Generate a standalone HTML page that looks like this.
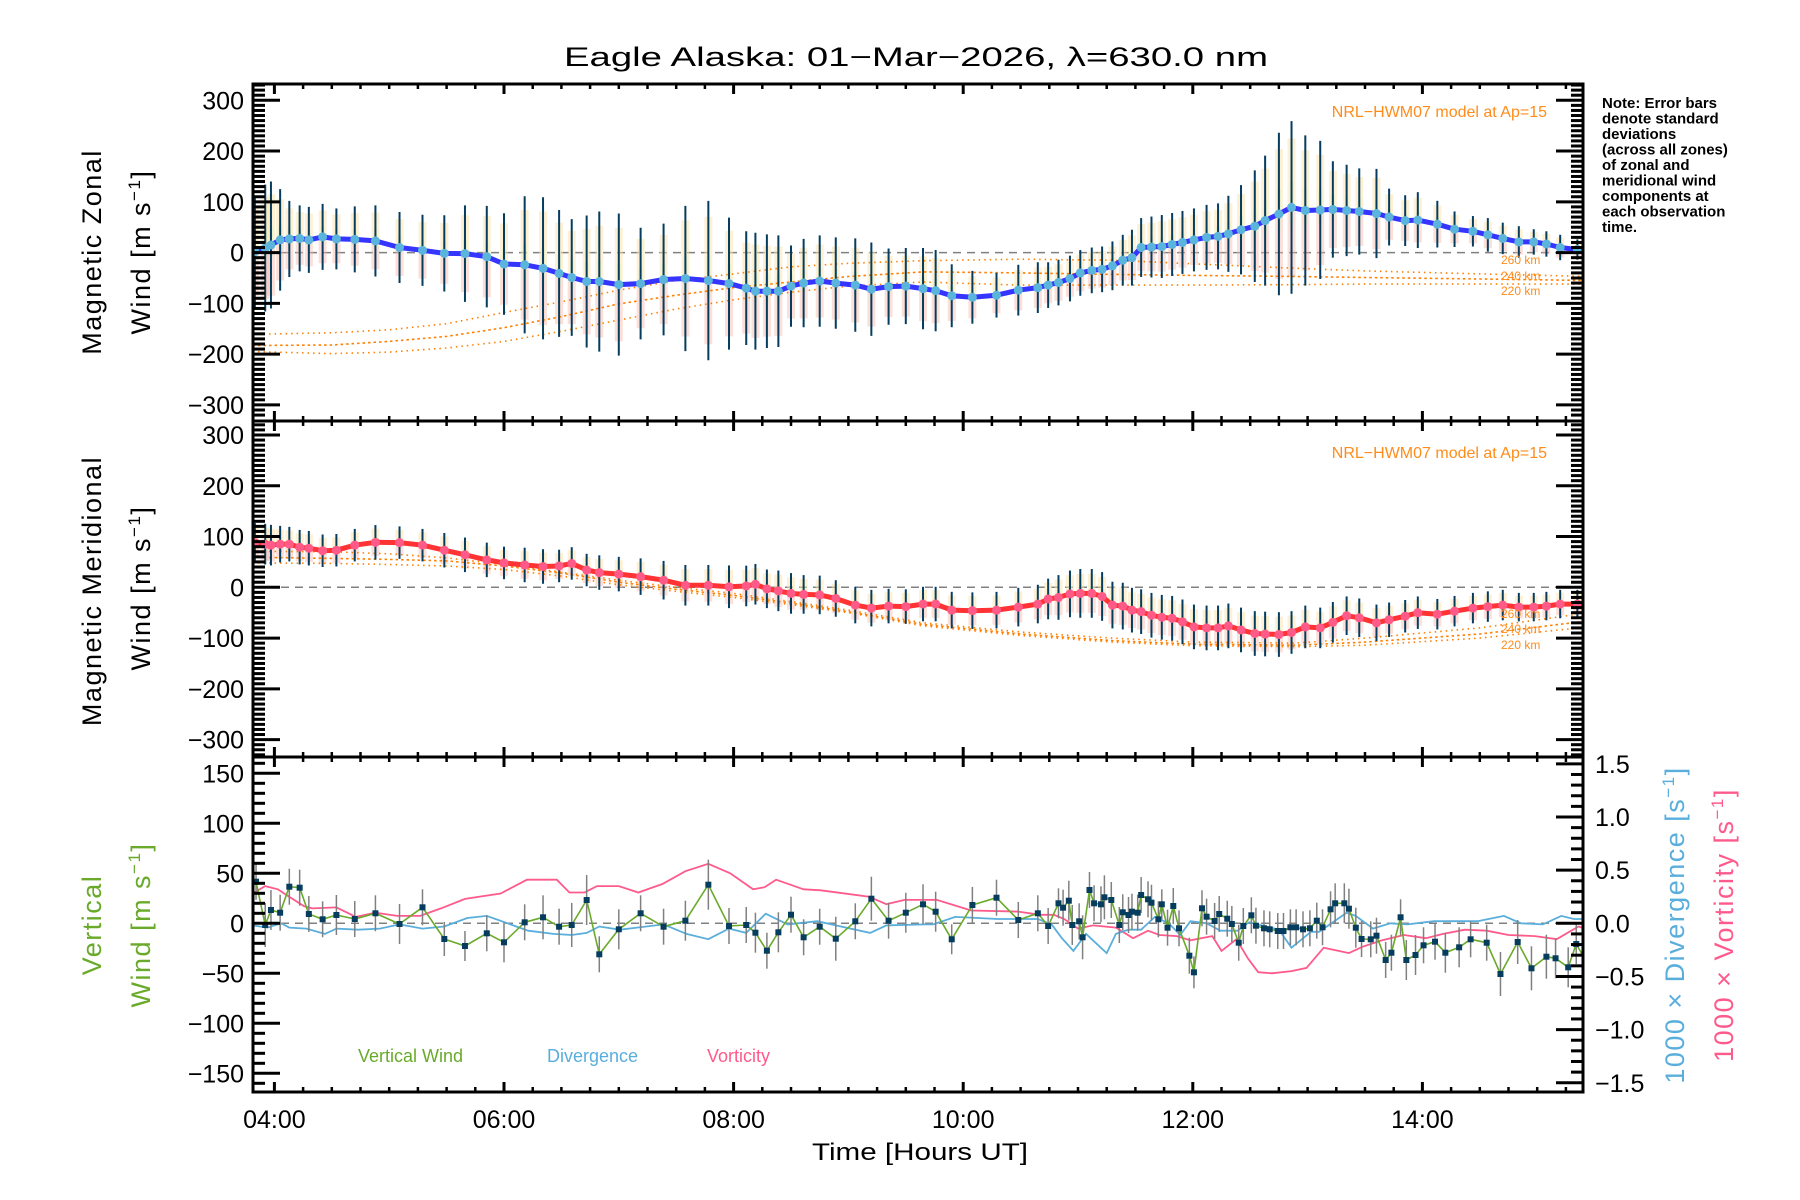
<!DOCTYPE html>
<html>
<head>
<meta charset="utf-8">
<style>
html,body{margin:0;padding:0;background:#fff;}
svg{display:block;font-family:"Liberation Sans",sans-serif;}
</style>
</head>
<body>
<svg id="chart" width="1800" height="1200" viewBox="0 0 1800 1200" xmlns="http://www.w3.org/2000/svg">
<rect x="0" y="0" width="1800" height="1200" fill="#fff"/>
<text x="916" y="66" font-size="27" text-anchor="middle" textLength="704" lengthAdjust="spacingAndGlyphs" fill="#000">Eagle Alaska: 01−Mar−2026, λ=630.0 nm</text>
<g id="layer-bands"></g>
<g id="layer-model"></g>
<g id="layer-main"></g>
<g id="layer-axes"></g>

<text x="1547" y="117" font-size="16" fill="#ff8c1a" text-anchor="end">NRL−HWM07 model at Ap=15</text>
<text x="1547" y="458" font-size="16" fill="#ff8c1a" text-anchor="end">NRL−HWM07 model at Ap=15</text>
<g font-size="12" fill="#ff8c1a">
<text x="1501" y="264">260 km</text>
<text x="1501" y="280">240 km</text>
<text x="1501" y="295">220 km</text>
</g>
<g font-size="12" fill="#ff8c1a">
<text x="1501" y="618">260 km</text>
<text x="1501" y="633">240 km</text>
<text x="1501" y="649">220 km</text>
</g>

<g font-size="15" font-weight="bold" fill="#000">
<text x="1602" y="108">Note: Error bars</text>
<text x="1602" y="123.5">denote standard</text>
<text x="1602" y="139">deviations</text>
<text x="1602" y="154.5">(across all zones)</text>
<text x="1602" y="170">of zonal and</text>
<text x="1602" y="185.5">meridional wind</text>
<text x="1602" y="201">components at</text>
<text x="1602" y="216.5">each observation</text>
<text x="1602" y="232">time.</text>
</g>

<g font-size="27" fill="#000" letter-spacing="1.5">
<text transform="translate(101,252) rotate(-90)" text-anchor="middle">Magnetic Zonal</text>
<text transform="translate(150,252) rotate(-90)" text-anchor="middle">Wind [m s<tspan font-size="17" dy="-10">−1</tspan><tspan dy="10">]</tspan></text>
<text transform="translate(101,591) rotate(-90)" text-anchor="middle">Magnetic Meridional</text>
<text transform="translate(150,588) rotate(-90)" text-anchor="middle">Wind [m s<tspan font-size="17" dy="-10">−1</tspan><tspan dy="10">]</tspan></text>
<text transform="translate(101,925) rotate(-90)" text-anchor="middle" fill="#6aaa2a">Vertical</text>
<text transform="translate(150,925) rotate(-90)" text-anchor="middle" fill="#6aaa2a">Wind [m s<tspan font-size="17" dy="-10">−1</tspan><tspan dy="10">]</tspan></text>
<text transform="translate(1684,925) rotate(-90)" text-anchor="middle" fill="#5aaedc">1000 × Divergence [s<tspan font-size="17" dy="-10">−1</tspan><tspan dy="10">]</tspan></text>
<text transform="translate(1733,925) rotate(-90)" text-anchor="middle" fill="#ff5a8c">1000 × Vorticity [s<tspan font-size="17" dy="-10">−1</tspan><tspan dy="10">]</tspan></text>
</g>

<text x="920" y="1160" font-size="24" text-anchor="middle" textLength="216" lengthAdjust="spacingAndGlyphs">Time [Hours UT]</text>

<g font-size="18">
<text x="358" y="1062" fill="#6aaa2a">Vertical Wind</text>
<text x="547" y="1062" fill="#5aaedc">Divergence</text>
<text x="707" y="1062" fill="#ff5a8c">Vorticity</text>
</g>
</svg>

<script>
// ===== data =====
const obsTimes = [3.83,3.92,3.97,4.05,4.13,4.22,4.30,4.42,4.54,4.70,4.88,5.09,5.29,5.48,5.66,5.85,6.00,6.18,6.34,6.48,6.59,6.72,6.83,7.00,7.19,7.39,7.58,7.78,7.96,8.11,8.19,8.29,8.39,8.50,8.61,8.75,8.89,9.06,9.20,9.35,9.50,9.65,
 9.76,9.90,10.08,10.29,10.48,10.65,10.74,10.83,10.93,11.02,11.12,11.21,11.30,11.39,11.47,11.55,11.64,11.73,11.82,11.91,12.01,12.12,12.22,12.31,12.42,12.54,12.63,12.75,12.86,12.98,13.11,13.22,13.34,13.45,13.60,13.71,13.85,13.96,14.13,14.28,14.44,14.57,14.70,14.84,14.97,15.08,15.20,15.35,15.44];
const zonalWind = [2,9,15,25,27,28,25,31,27,26,23,10,4.5,-1.5,-2,-8,-22.5,-24,-31,-41,-49,-57,-57,-63,-61,-53,-51,-55,-61,-70,-76,-76,-76,-66,-60,-56,-60,-64,-72,-67,-66,-71,
 -75,-85,-88,-84,-74,-69,-64,-59,-51,-40,-35,-33,-26,-15,-10,10,11,12,16,20,25,30,32,37,45,52,63,76,89,83,84,85,83,81,77,70,63,64,56,46,42,35,28,21,21,17,10,6,-1];
const zonalErr = [110,125,125,100,75,65,65,65,60,65,70,70,70,75,95,100,100,135,140,125,115,130,138,140,110,110,143,157,130,112,115,112,110,80,87,90,90,92,92,75,75,80,
 80,62,52,44,50,50,45,45,45,45,45,45,48,50,55,58,60,62,62,62,62,64,65,75,88,110,128,160,170,148,136,95,90,85,88,56,50,55,46,35,30,33,31,31,25,25,25,20,20];
const meridWind = [88.6,85,83,85,85,79,77,72,73,83,88.6,88,83,73,64,54,48,44,41,42,47,34,29,26,21,14,4,4,1,2.6,6,-3,-7,-12,-14,-15,-22,-35,-41,-37,-38,-33,
 -33,-45,-46,-45,-39,-33,-23,-20,-13,-12,-12,-18,-35,-37,-45,-48,-55,-59,-61,-68,-78,-80,-80,-76,-84,-91,-92,-93,-89,-78,-80,-69,-56,-60,-70,-64,-57,-50,-53,-47,-41,-38,-35,-39,-39,-37,-33,-33,-32];
const meridErr = [38,40,40,36,34,34,34,32,32,32,34,32,32,34,34,34,32,34,34,32,32,32,34,34,36,38,40,40,42,40,40,38,40,40,38,38,36,36,36,34,34,34,
 34,36,36,36,38,38,40,44,46,48,48,48,46,46,44,44,44,44,44,44,44,44,44,44,44,44,44,44,42,42,40,40,38,38,36,34,32,32,30,30,30,30,30,28,28,28,28,28,28];

const hwmTimes = [3.81,4.5,5.0,5.5,6.0,6.5,7.0,7.5,8.0,8.5,9.0,9.65,10.5,11.3,12.0,12.9,13.5,14.5,15.45];
const hwmZonal260 = [-161,-158,-152,-140,-118,-97,-74,-55,-42,-28,-21,-16,-13,-15,-22,-31,-36,-42,-47];
const hwmZonal240 = [-183,-182,-175,-165,-148,-126,-101,-84,-69,-58,-47,-38,-40,-43,-45,-47,-49,-52,-55];
const hwmZonal220 = [-195,-199,-196,-188,-175,-155,-133,-111,-93,-78,-66,-58,-64,-64,-64,-63,-62,-62,-62];
const hwmMerid260 = [71,70,66,58,45,30,14,0,-12,-28,-45,-70,-88,-100,-108,-110,-100,-80,-50];
const hwmMerid240 = [59,57,55,52,42,28,10,-4,-16,-31,-48,-73,-92,-105,-112,-114,-108,-92,-66];
const hwmMerid220 = [48,47,45,42,35,22,5,-8,-20,-34,-50,-76,-95,-108,-115,-117,-114,-100,-78];

const vwTimes = [3.84,3.92,3.97,4.05,4.13,4.22,4.30,4.42,4.54,4.70,4.88,5.09,5.29,5.48,5.66,5.85,6.0,6.18,6.34,6.48,6.59,6.72,6.83,7.0,7.19,7.39,7.58,7.78,7.96,8.11,8.19,8.29,8.39,8.50,8.61,8.75,8.89,9.06,9.20,9.35,9.50,9.65,9.76,9.90,10.08,10.29,10.48,10.65,10.74,10.83,10.87,10.92,10.95,11.01,11.04,11.10,11.14,11.20,11.23,11.29,11.36,11.39,11.44,11.47,11.52,11.55,11.61,11.64,11.70,11.73,11.78,11.83,11.88,11.97,12.01,12.08,12.12,12.19,12.23,12.30,12.34,12.40,12.44,12.51,12.55,12.62,12.67,12.74,12.79,12.85,12.90,12.96,13.02,13.08,13.13,13.20,13.24,13.32,13.36,13.42,13.47,13.55,13.60,13.68,13.73,13.81,13.86,13.94,14.01,14.11,14.20,14.32,14.42,14.56,14.68,14.83,14.95,15.08,15.16,15.27,15.34,15.44];
const vwValues = [41.6,-1.7,13.3,10.6,36.6,35.6,9.3,4,8.3,4.3,10,-0.7,16,-15.7,-22.7,-10,-19,1,6,-3.4,-1.7,23.3,-31,-6,10,-3.4,2.6,38.6,-2.7,-1.7,-9.4,-27.4,-9,8.6,-14,-3.4,-15.4,2,24.6,2.6,10.6,19,11.6,-16,18.3,25.6,3.3,10,-2.7,20,15.6,22.6,-1.7,2,-14,33.3,20,19,26,23.3,-1.7,11,8.3,11.6,10.6,28.3,24,20.6,4,19,-4.4,17.3,-5,-32.4,-49,15,6.6,2.3,9.3,4.6,-0.7,-19.4,-2.7,8,-2.4,-5,-6,-7.7,-7.7,-4,-4,-6,-5,2.6,-4,14,20,20,14.6,-4.4,-15.7,-16,-12.4,-36.7,-29.4,6,-36.7,-31.7,-22,-18.4,-29.4,-24,-16,-19.4,-50.7,-18.7,-45,-33.4,-35,-44,-20.7,-40.7];
const vwErr = [18,22,20,18,18,18,18,18,20,18,18,20,18,17,15,18,20,18,22,18,22,25,18,20,18,18,20,25,18,18,20,18,20,18,18,18,22,18,22,18,20,20,20,15,18,18,18,18,18,15,18,20,20,18,22,18,18,18,22,18,18,18,18,18,18,18,18,18,18,15,18,18,18,18,16,18,18,18,18,18,18,18,18,18,18,18,18,18,18,18,18,18,18,18,18,18,20,20,20,20,18,18,18,18,18,18,20,20,18,18,20,20,18,18,22,22,22,22,20,20,20,20];

const vortTimes = [3.81,3.92,4.03,4.10,4.26,4.33,4.54,4.71,4.88,5.07,5.27,5.45,5.66,5.97,6.20,6.46,6.57,6.70,6.81,7.0,7.17,7.38,7.58,7.78,7.97,8.17,8.27,8.37,8.61,8.76,9.18,9.33,9.49,9.67,9.77,10.07,10.48,10.67,10.79,10.88,11.0,11.13,11.33,11.48,11.61,11.71,11.86,11.98,12.17,12.25,12.38,12.48,12.57,12.69,12.86,12.99,13.14,13.27,13.36,13.48,13.65,13.84,14.03,14.18,14.37,14.56,14.75,14.98,15.17,15.36,15.45];
const vortValues = [0.28,0.35,0.32,0.27,0.16,0.14,0.15,0.06,0.10,0.07,0.07,0.14,0.23,0.28,0.41,0.41,0.29,0.29,0.35,0.35,0.29,0.37,0.49,0.56,0.47,0.32,0.34,0.41,0.32,0.31,0.25,0.18,0.22,0.22,0.22,0.12,0.11,0.08,0.08,0.04,-0.05,-0.02,-0.04,-0.14,-0.07,-0.11,-0.12,-0.16,-0.12,-0.26,-0.15,-0.33,-0.46,-0.47,-0.45,-0.42,-0.23,-0.26,-0.28,-0.22,-0.16,-0.11,-0.14,-0.10,-0.06,-0.07,-0.11,-0.12,-0.15,-0.03,-0.06];
const divTimes = [3.81,3.94,4.06,4.13,4.28,4.44,4.54,4.73,4.92,5.09,5.29,5.48,5.68,5.85,6.21,6.43,6.59,6.72,6.83,7.01,7.39,7.59,7.78,7.96,8.11,8.28,8.47,8.73,8.89,9.19,9.33,9.67,9.74,9.93,10.30,10.65,10.77,10.86,10.96,11.07,11.25,11.33,11.44,11.55,11.67,11.79,11.89,11.98,12.12,12.24,12.39,12.49,12.75,12.86,13.03,13.10,13.34,13.42,13.57,13.72,13.87,14.10,14.48,14.71,14.86,15.05,15.21,15.32,15.45];
const divValues = [-0.02,-0.04,0.00,-0.04,-0.05,-0.10,-0.05,-0.06,-0.05,-0.01,-0.05,-0.03,0.05,0.07,-0.07,-0.10,-0.11,-0.09,-0.03,-0.06,-0.01,-0.10,-0.15,-0.05,-0.09,0.09,-0.01,0.02,-0.02,-0.09,-0.02,-0.01,-0.01,0.06,0.04,0.04,-0.01,-0.14,-0.26,-0.10,-0.28,-0.10,-0.06,-0.06,0.06,0.00,-0.11,0.02,0.00,-0.07,-0.07,0.01,-0.06,-0.23,-0.08,-0.08,0.10,0.07,-0.05,0.00,-0.01,0.02,0.02,0.07,0.00,-0.01,0.07,0.04,0.04];

const yTicksWind = [-300,-200,-100,0,100,200,300];
const yTicksVert = [-150,-100,-50,0,50,100,150];
const yTicksRatio = [-1.5,-1.0,-0.5,0.0,0.5,1.0,1.5];
const xTickHours = [4,6,8,10,12,14];

// ===== geometry =====
const SVGNS = "http://www.w3.org/2000/svg";
const L = 253, R = 1583;
const P1T = 84, P1B = 421, P2T = 421, P2B = 757, P3T = 757, P3B = 1092;
function xs(h){ return 274.4 + (h - 4) * 114.8; }
function y1(v){ return 252.6 - v * 0.5077; }
function y2(v){ return 587.3 - v * 0.5077; }
function y3(v){ return 923.3 - v * 1.0; }
function y3r(v){ return 923.3 - v * 106.3; }

function mk(tag, attrs, parent){
  const e = document.createElementNS(SVGNS, tag);
  for (const k in attrs) e.setAttribute(k, attrs[k]);
  parent.appendChild(e);
  return e;
}
const gBands = document.getElementById('layer-bands');
const gModel = document.getElementById('layer-model');
const gMain = document.getElementById('layer-main');
const gAxes = document.getElementById('layer-axes');

const defs = mk('defs', {}, document.getElementById('chart'));
[[P1T,P1B,'c1'],[P2T,P2B,'c2'],[P3T,P3B,'c3']].forEach(function(p){
  const cp = mk('clipPath', {id:p[2]}, defs);
  mk('rect', {x:L, y:p[0], width:R-L, height:p[1]-p[0]}, cp);
});

[[y1(0),'c1'],[y2(0),'c2'],[y3(0),'c3']].forEach(function(z){
  const ln = mk('line', {x1:L, x2:R, y1:z[0], y2:z[0], stroke:'#808080', 'stroke-width':1.5, 'stroke-dasharray':'8 6'}, gBands);
  
  
});

function bands(times, vals, errs, yf, clip, name){
  const g = mk('g', {'clip-path':'url(#'+clip+')'}, gBands);
  
  
  for (let i = 0; i < times.length; i++){
    const x = xs(times[i]) - 4;
    const top = yf(vals[i] + errs[i] * 0.8), mid = yf(vals[i]), bot = yf(vals[i] - errs[i] * 0.8);
    mk('rect', {x:x, y:top, width:8, height:mid-top, fill:'#fde3a8', opacity:0.5}, g);
    mk('rect', {x:x, y:mid, width:8, height:bot-mid, fill:'#f9b8a8', opacity:0.45}, g);
    mk('rect', {x:x+2, y:yf(vals[i] + errs[i]*0.3), width:4, height:yf(vals[i]-errs[i]*0.2)-yf(vals[i]+errs[i]*0.3), fill:'#cdeec0', opacity:0.4}, g);
  }
}
bands(obsTimes, zonalWind, zonalErr, y1, 'c1', 'zonal-zone-bands');
bands(obsTimes, meridWind, meridErr, y2, 'c2', 'meridional-zone-bands');

function modelLine(vals, yf, clip, name, dash){
  let d = '';
  for (let i = 0; i < hwmTimes.length; i++) d += (i ? 'L' : 'M') + xs(hwmTimes[i]).toFixed(1) + ',' + yf(vals[i]).toFixed(1);
  const p = mk('path', {d:d, fill:'none', stroke:'#ff7f00', 'stroke-width':1.6, 'stroke-dasharray':dash, 'clip-path':'url(#'+clip+')'}, gModel);
  
  
}
modelLine(hwmZonal260, y1, 'c1', 'hwm-zonal-260km', '1.5 4');
modelLine(hwmZonal240, y1, 'c1', 'hwm-zonal-240km', '2.5 3');
modelLine(hwmZonal220, y1, 'c1', 'hwm-zonal-220km', '1.5 4');
modelLine(hwmMerid260, y2, 'c2', 'hwm-meridional-260km', '1.5 4');
modelLine(hwmMerid240, y2, 'c2', 'hwm-meridional-240km', '2.5 3');
modelLine(hwmMerid220, y2, 'c2', 'hwm-meridional-220km', '1.5 4');

function series(times, vals, errs, yf, clip, lineColor, lineW, markColor, barColor, barW, name, markerSquare){
  const g = mk('g', {'clip-path':'url(#'+clip+')'}, gMain);
  
  
  for (let i = 0; i < times.length; i++){
    const x = xs(times[i]);
    const bar = mk('line', {x1:x, x2:x, y1:yf(vals[i]+errs[i]), y2:yf(vals[i]-errs[i]), stroke:barColor, 'stroke-width':barW}, g);
    
    
  }
  let d = '';
  for (let i = 0; i < times.length; i++) d += (i ? 'L' : 'M') + xs(times[i]).toFixed(1) + ',' + yf(vals[i]).toFixed(1);
  const ln = mk('path', {d:d, fill:'none', stroke:lineColor, 'stroke-width':lineW, 'stroke-linejoin':'round'}, g);
  
  
  for (let i = 0; i < times.length; i++){
    const x = xs(times[i]), y = yf(vals[i]);
    let m;
    if (markerSquare) m = mk('rect', {x:x-3, y:y-3, width:6, height:6, fill:markColor}, g);
    else m = mk('circle', {cx:x, cy:y, r:4.5, fill:markColor}, g);
    
    
  }
}
series(obsTimes, zonalWind, zonalErr, y1, 'c1', '#3535ff', 5, '#5ab4dc', '#063d5e', 2, 'zonal-wind', false);
series(obsTimes, meridWind, meridErr, y2, 'c2', '#ff3333', 5, '#ff5a88', '#063d5e', 2, 'meridional-wind', false);

function simpleLine(times, vals, yf, color, name){
  let d = '';
  for (let i = 0; i < times.length; i++) d += (i ? 'L' : 'M') + xs(times[i]).toFixed(1) + ',' + yf(vals[i]).toFixed(1);
  const p = mk('path', {d:d, fill:'none', stroke:color, 'stroke-width':1.8, 'clip-path':'url(#c3)'}, gMain);
  
  
}
simpleLine(vortTimes, vortValues, y3r, '#ff5a8c', 'vorticity-line');
simpleLine(divTimes, divValues, y3r, '#5aaedc', 'divergence-line');
series(vwTimes, vwValues, vwErr, y3, 'c3', '#6aaa2a', 1.6, '#063d5e', '#808080', 1.5, 'vertical-wind', true);

function frame(top, bot, name){
  const r = mk('rect', {x:L, y:top, width:R-L, height:bot-top, fill:'none', stroke:'#000', 'stroke-width':3}, gAxes);
  
  
}
frame(P1T, P1B, 'zonal-panel-frame');
frame(P2T, P2B, 'meridional-panel-frame');
frame(P3T, P3B, 'vertical-panel-frame');

function hline(x1, x2, y, w){ mk('line', {x1:x1, x2:x2, y1:y, y2:y, stroke:'#000', 'stroke-width':w}, gAxes); }
function vline(x, y1v, y2v, w){ mk('line', {x1:x, x2:x, y1:y1v, y2:y2v, stroke:'#000', 'stroke-width':w}, gAxes); }

[[P1T,P1B],[P2T,P2B],[P3T,P3B]].forEach(function(p){
  for (let h = 4; h <= 15.3; h += 0.25){
    const x = xs(h);
    const major = Math.abs(h/2 - Math.round(h/2)) < 1e-6;
    const len = major ? 10 : 5;
    vline(x, p[0], p[0]+len, major ? 3 : 2.5);
    vline(x, p[1]-len, p[1], major ? 3 : 2.5);
  }
});
[[y1,P1T,P1B],[y2,P2T,P2B]].forEach(function(p){
  for (let v = -330; v <= 330; v += 10){
    const y = p[0](v);
    if (y < p[1]+1 || y > p[2]-1) continue;
    const major = v % 100 === 0;
    const len = major ? 27 : 12;
    hline(L, L+len, y, 3);
    hline(R-len, R, y, 3);
  }
});
for (let v = -160; v <= 160; v += 10){
  const y = y3(v);
  if (y < P3T+1 || y > P3B-1) continue;
  hline(L, L + (v % 50 === 0 ? 27 : 12), y, 3);
}
for (let k = -15; k <= 15; k++){
  const y = y3r(k/10);
  hline(R - (k % 5 === 0 ? 27 : 12), R, y, 3);
}

function label(x, y, txt, anchor, name){
  const t = mk('text', {x:x, y:y, 'font-size':25, 'text-anchor':anchor, fill:'#000'}, gAxes);
  t.textContent = txt;
  
  
}
yTicksWind.forEach(function(v){
  const s = v < 0 ? '−' + Math.abs(v) : String(v);
  label(244, y1(v) + 9, s, 'end', 'zonal-y-tick-label');
  label(244, y2(v) + 9, s, 'end', 'meridional-y-tick-label');
});
yTicksVert.forEach(function(v){
  const s = v < 0 ? '−' + Math.abs(v) : String(v);
  label(244, y3(v) + 9, s, 'end', 'vertical-y-tick-label');
});
yTicksRatio.forEach(function(v){
  const s = (v < 0 ? '−' : '') + Math.abs(v).toFixed(1);
  label(1595, y3r(v) + 9, s, 'start', 'ratio-y-tick-label');
});
xTickHours.forEach(function(h){
  const s = (h < 10 ? '0' : '') + h + ':00';
  label(xs(h), 1128, s, 'middle', 'x-tick-label');
});
</script>
</body>
</html>
